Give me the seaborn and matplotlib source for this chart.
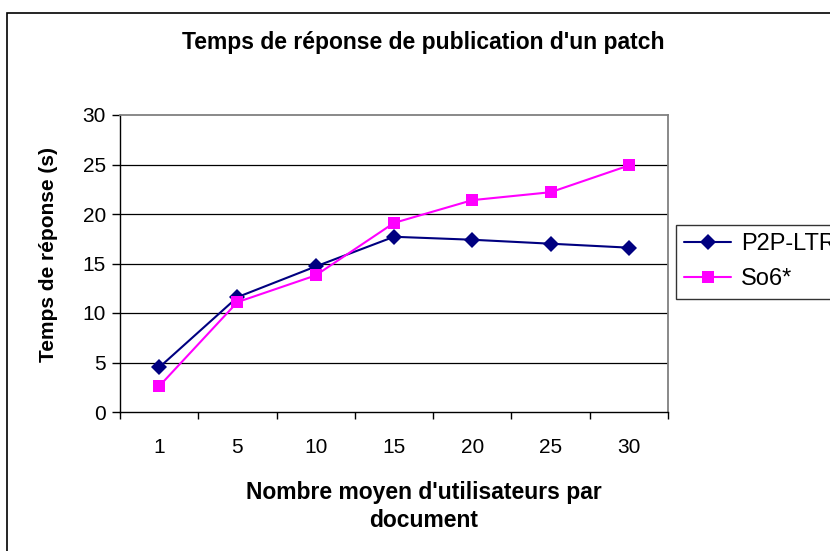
import matplotlib
matplotlib.use("Agg")
import matplotlib.pyplot as plt
import seaborn as sns
import pandas as pd
from matplotlib.patches import Rectangle

# data
categories = ["1", "5", "10", "15", "20", "25", "30"]
p2p_ltr = [4.5, 11.6, 14.7, 17.7, 17.4, 17.0, 16.6]
so6 = [2.6, 11.1, 13.8, 19.1, 21.4, 22.2, 24.9]
series_names = ["P2P-LTR", "So6*"]
y_ticks = [0, 5, 10, 15, 20, 25, 30]

sns.set_style("white")
plt.rcParams['font.family'] = ['Liberation Sans', 'DejaVu Sans']
plt.rcParams['text.color'] = 'black'
plt.rcParams['axes.labelcolor'] = 'black'
plt.rcParams['xtick.color'] = 'black'
plt.rcParams['ytick.color'] = 'black'

df = pd.DataFrame({
    'pos': list(range(len(categories))) * 2,
    'value': p2p_ltr + so6,
    'serie': [series_names[0]] * len(categories) + [series_names[1]] * len(categories),
})

fig = plt.figure(figsize=(8.3, 5.51), dpi=100)
# plot area in pixels: x 120..668, y 115..412
ax = fig.add_axes([120 / 830, 1 - 412 / 551, 548 / 830, 297 / 551])

sns.lineplot(data=df, x='pos', y='value', hue='serie', style='serie',
             palette={'P2P-LTR': '#000080', 'So6*': '#FF00FF'},
             markers={'P2P-LTR': 'D', 'So6*': 's'}, dashes=False,
             markersize=8, linewidth=1.5, markeredgewidth=0, ax=ax)

ax.set_xlim(-0.5, len(categories) - 0.5)
ax.set_ylim(0, 30)
ax.set_yticks(y_ticks)
ax.set_yticklabels([str(v) for v in y_ticks], fontsize=15)
ax.set_xticks([i - 0.5 for i in range(len(categories) + 1)])
ax.set_xticklabels([])
ax.set_xticks(list(range(len(categories))), minor=True)
ax.set_xticklabels(categories, minor=True, fontsize=15)
ax.tick_params(axis='x', which='major', direction='out', length=5, width=1, color='black', bottom=True)
ax.tick_params(axis='x', which='minor', length=0, pad=19)
ax.tick_params(axis='y', direction='out', length=6, width=1, color='black', left=True, pad=4)

for v in y_ticks[1:-1]:
    ax.axhline(v, color='black', lw=0.9, zorder=0)

for s in ['top', 'right']:
    ax.spines[s].set_color('#808080')
    ax.spines[s].set_linewidth(1.3)
for s in ['left', 'bottom']:
    ax.spines[s].set_color('black')
    ax.spines[s].set_linewidth(1)

ax.set_xlabel("Nombre moyen d'utilisateurs par\ndocument", fontsize=16.5, fontweight='bold', linespacing=1.3)
ax.xaxis.set_label_coords((424 - 120) / 548, -(481 - 412) / 297)
ax.set_ylabel("Temps de réponse (s)", fontsize=15, fontweight='bold')
ax.yaxis.set_label_coords(-(120 - 58) / 548, (412 - 255) / 297)

fig.text(423 / 830, 1 - 43 / 551, "Temps de réponse de publication d'un patch", ha='center', va='center',
         fontsize=16.5, fontweight='bold')

# legend runs past the right edge, like in the reference
handles, labels = ax.get_legend_handles_labels()
ax.legend(handles, labels, loc='upper left', bbox_to_anchor=(676 / 830, 1 - 225 / 551),
          bbox_transform=fig.transFigure, borderaxespad=0, frameon=True, fancybox=False,
          edgecolor='black', fontsize=17, handlelength=2.0, borderpad=0.35, labelspacing=0.55,
          handletextpad=0.4)
ax.get_legend().get_frame().set_linewidth(1)

fig.patches.append(Rectangle((7 / 830, -0.1), 1.2, 1 - 13 / 551 + 0.1, transform=fig.transFigure,
                             fill=False, edgecolor='black', lw=1.2))

fig.savefig("out.png", dpi=100)
